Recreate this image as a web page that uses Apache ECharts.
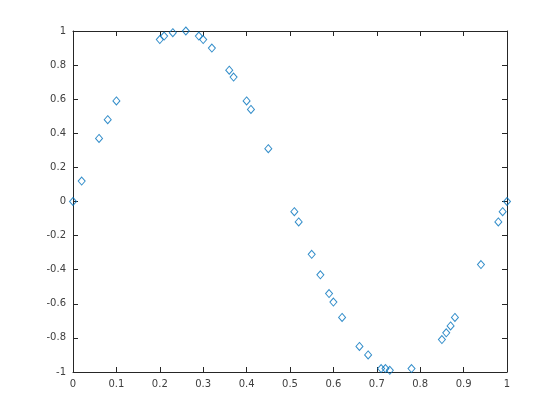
<!DOCTYPE html>
<html>
<head>
<meta charset="utf-8">
<script src="https://cdn.jsdelivr.net/npm/echarts@6/dist/echarts.min.js"></script>
<style>
  html, body { margin: 0; padding: 0; background: #fff; }
  #chart { width: 560px; height: 420px; }
</style>
</head>
<body>
<div id="chart"></div>
<script>
const xValues = [0, 0.02, 0.06, 0.08, 0.10, 0.20, 0.21, 0.23, 0.26, 0.29, 0.30, 0.32,
  0.36, 0.37, 0.40, 0.41, 0.45, 0.51, 0.52, 0.55, 0.57, 0.59, 0.60, 0.62,
  0.66, 0.68, 0.71, 0.72, 0.73, 0.78, 0.85, 0.86, 0.87, 0.88, 0.94, 0.98, 0.99, 1.00];
const yValues = [0, 0.12, 0.37, 0.48, 0.59, 0.95, 0.97, 0.99, 1.00, 0.97, 0.95, 0.90,
  0.77, 0.73, 0.59, 0.54, 0.31, -0.06, -0.12, -0.31, -0.43, -0.54, -0.59, -0.68,
  -0.85, -0.90, -0.98, -0.98, -0.99, -0.98, -0.81, -0.77, -0.73, -0.68, -0.37, -0.12, -0.06, 0];
const xTicks = [0, 0.1, 0.2, 0.3, 0.4, 0.5, 0.6, 0.7, 0.8, 0.9, 1];
const yTicks = [-1, -0.8, -0.6, -0.4, -0.2, 0, 0.2, 0.4, 0.6, 0.8, 1];

const points = xValues.map((x, i) => [x, yValues[i]]);

const axisColor = "#262626";
const labelStyle = {
  color: "#404040",
  fontSize: 10,
  fontFamily: "DejaVu Sans"
};

function fmt(v) {
  return String(Math.round(v * 10) / 10);
}

function boxAxis(position, ticks, showLabels) {
  return {
    type: "value",
    position: position,
    min: ticks[0],
    max: ticks[ticks.length - 1],
    interval: ticks[1] - ticks[0],
    axisLine: { show: true, onZero: false, lineStyle: { color: axisColor, width: 1 } },
    axisTick: { show: true, inside: true, length: 5, lineStyle: { color: axisColor } },
    axisLabel: Object.assign({ show: showLabels, margin: 7, formatter: fmt }, labelStyle),
    splitLine: { show: false }
  };
}

const chart = echarts.init(document.getElementById("chart"));
chart.setOption({
  animation: false,
  grid: { left: 73, right: 53, top: 31, bottom: 48 },
  xAxis: [boxAxis("bottom", xTicks, true), boxAxis("top", xTicks, false)],
  yAxis: [boxAxis("left", yTicks, true), boxAxis("right", yTicks, false)],
  series: [
    {
      type: "scatter",
      data: points,
      symbol: "diamond",
      symbolSize: [7, 8],
      itemStyle: {
        color: "rgba(0,0,0,0)",
        borderColor: "#0072BD",
        borderWidth: 1
      }
    }
  ]
});
</script>
</body>
</html>
